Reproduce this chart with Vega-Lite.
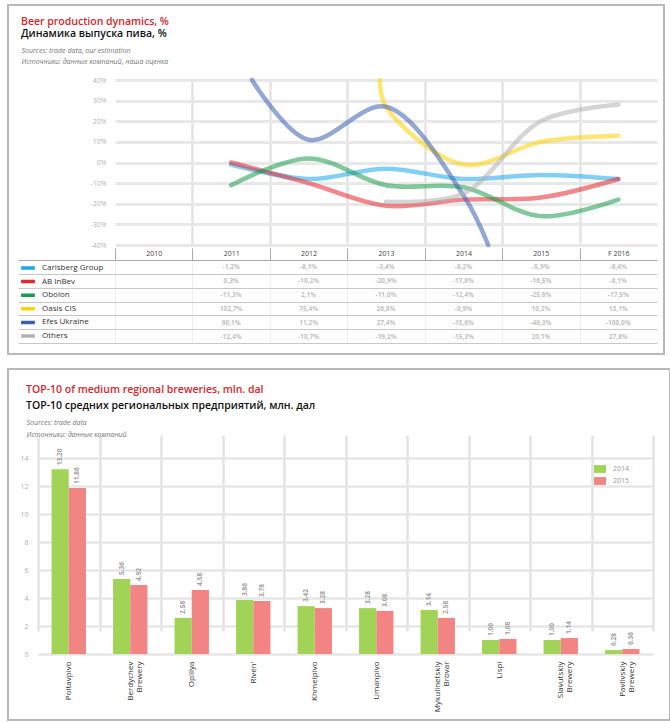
{
  "$schema": "https://vega.github.io/schema/vega-lite/v6.json",
  "padding": {"left": 3, "top": 4, "right": 0, "bottom": 0},
  "background": "white",
  "spacing": 13,
  "resolve": {"scale": {"color": "independent"}, "legend": {"color": "independent"}},
  "config": {
    "view": {"stroke": "#b9b9b9", "strokeWidth": 2},
    "font": "Open Sans",
    "axis": {"labelFont": "Open Sans", "titleFont": "Open Sans"},
    "legend": {"labelFont": "Open Sans"}
  },
  "vconcat": [
    {
      "width": 656,
      "height": 349,
      "title": {
        "text": "Beer production dynamics, %",
        "subtitle": "Динамика выпуска пива, %",
        "anchor": "start", "frame": "group", "offset": -34.7, "dx": 13,
        "font": "Open Sans", "fontSize": 10.5, "fontWeight": 600, "color": "#d8262e",
        "subtitleFont": "Open Sans", "subtitleFontSize": 10.5, "subtitleFontWeight": 600, "subtitleColor": "#111111",
        "subtitlePadding": 2
      },
      "layer": [
        {
          "data": {"values": [
            {"c": "Carlsberg Group", "t": 2011, "v": -1},
            {"c": "Carlsberg Group", "t": 2012, "v": -8},
            {"c": "Carlsberg Group", "t": 2013, "v": -3},
            {"c": "Carlsberg Group", "t": 2014, "v": -8},
            {"c": "Carlsberg Group", "t": 2015, "v": -6},
            {"c": "Carlsberg Group", "t": 2016, "v": -8},
            {"c": "AB InBev", "t": 2011, "v": 0},
            {"c": "AB InBev", "t": 2012, "v": -10},
            {"c": "AB InBev", "t": 2013, "v": -21},
            {"c": "AB InBev", "t": 2014, "v": -18},
            {"c": "AB InBev", "t": 2015, "v": -17},
            {"c": "AB InBev", "t": 2016, "v": -8},
            {"c": "Obolon", "t": 2011, "v": -11},
            {"c": "Obolon", "t": 2012, "v": 2},
            {"c": "Obolon", "t": 2013, "v": -11},
            {"c": "Obolon", "t": 2014, "v": -12},
            {"c": "Obolon", "t": 2015, "v": -26},
            {"c": "Obolon", "t": 2016, "v": -18},
            {"c": "Oasis CIS", "t": 2012.92, "v": 40},
            {"c": "Oasis CIS", "t": 2013, "v": 27},
            {"c": "Oasis CIS", "t": 2014, "v": -1},
            {"c": "Oasis CIS", "t": 2015, "v": 10},
            {"c": "Oasis CIS", "t": 2016, "v": 13},
            {"c": "Efes Ukraine", "t": 2011.27, "v": 40},
            {"c": "Efes Ukraine", "t": 2012, "v": 11},
            {"c": "Efes Ukraine", "t": 2013, "v": 27},
            {"c": "Efes Ukraine", "t": 2014, "v": -16},
            {"c": "Efes Ukraine", "t": 2014.32, "v": -40},
            {"c": "Others", "t": 2013, "v": -19},
            {"c": "Others", "t": 2014, "v": -15},
            {"c": "Others", "t": 2015, "v": 20},
            {"c": "Others", "t": 2016, "v": 28}
          ]},
          "mark": {"type": "line", "interpolate": "catmull-rom", "strokeWidth": 4.5, "opacity": 0.55, "strokeCap": "round"},
          "encoding": {
            "x": {
              "field": "t", "type": "quantitative",
              "scale": {"domain": [2009.5, 2016.5], "range": [107, 649], "nice": false, "zero": false},
              "axis": {
                "orient": "top", "values": [2010.5, 2011.5, 2012.5, 2013.5, 2014.5, 2015.5],
                "grid": true, "gridColor": "#e3e3e3", "gridWidth": 2.5,
                "labels": false, "ticks": false, "domain": false,
                "title": ["Sources: trade data, our estimation", "Источники: данные компаний, наша оценка"],
                "titleX": 13, "titleY": 47, "titleAlign": "left", "titleAnchor": "start", "titleBaseline": "alphabetic",
                "titleAngle": 0, "titleFontSize": 7, "titleFontStyle": "italic", "titleFontWeight": "normal",
                "titleColor": "#777777", "titleLineHeight": 11
              }
            },
            "y": {
              "field": "v", "type": "quantitative",
              "scale": {"domain": [-40, 40], "range": [240, 75], "nice": false, "zero": false},
              "axis": {
                "values": [-40, -30, -20, -10, 0, 10, 20, 30, 40],
                "grid": true, "gridColor": "#e8e8e8", "gridWidth": 3,
                "ticks": false, "domain": false, "labelExpr": "datum.value + '%'",
                "labelColor": "#b5b5b5", "labelFontSize": 7, "labelPadding": 2, "offset": -100, "title": null
              }
            },
            "color": {
              "field": "c", "type": "nominal",
              "scale": {
                "domain": ["Carlsberg Group", "AB InBev", "Obolon", "Oasis CIS", "Efes Ukraine", "Others"],
                "range": ["#1ca7ec", "#e8262e", "#1a9b4b", "#ffd200", "#3a5fb0", "#b3b3b3"]
              },
              "legend": {
                "orient": "none", "legendX": 12, "legendY": 257, "title": null,
                "symbolType": "M-1.15,0H1.15", "symbolSize": 144, "symbolStrokeWidth": 3.5, "symbolOpacity": 1,
                "clipHeight": 12,
                "labelFontSize": 8, "labelColor": "#333333", "labelOffset": 6, "rowPadding": 1.6, "padding": 0
              }
            }
          }
        },
        {
          "data": {"values": [
            {"c": "Carlsberg Group", "t": 2011, "s": "-1,2%"},
            {"c": "Carlsberg Group", "t": 2012, "s": "-8,1%"},
            {"c": "Carlsberg Group", "t": 2013, "s": "-3,4%"},
            {"c": "Carlsberg Group", "t": 2014, "s": "-8,2%"},
            {"c": "Carlsberg Group", "t": 2015, "s": "-5,9%"},
            {"c": "Carlsberg Group", "t": 2016, "s": "-8,4%"},
            {"c": "AB InBev", "t": 2011, "s": "0,3%"},
            {"c": "AB InBev", "t": 2012, "s": "-10,2%"},
            {"c": "AB InBev", "t": 2013, "s": "-20,9%"},
            {"c": "AB InBev", "t": 2014, "s": "-17,8%"},
            {"c": "AB InBev", "t": 2015, "s": "-16,5%"},
            {"c": "AB InBev", "t": 2016, "s": "-8,1%"},
            {"c": "Obolon", "t": 2011, "s": "-11,3%"},
            {"c": "Obolon", "t": 2012, "s": "2,1%"},
            {"c": "Obolon", "t": 2013, "s": "-11,0%"},
            {"c": "Obolon", "t": 2014, "s": "-12,4%"},
            {"c": "Obolon", "t": 2015, "s": "-25,6%"},
            {"c": "Obolon", "t": 2016, "s": "-17,5%"},
            {"c": "Oasis CIS", "t": 2011, "s": "102,7%"},
            {"c": "Oasis CIS", "t": 2012, "s": "75,4%"},
            {"c": "Oasis CIS", "t": 2013, "s": "26,8%"},
            {"c": "Oasis CIS", "t": 2014, "s": "-0,9%"},
            {"c": "Oasis CIS", "t": 2015, "s": "10,2%"},
            {"c": "Oasis CIS", "t": 2016, "s": "13,1%"},
            {"c": "Efes Ukraine", "t": 2011, "s": "60,1%"},
            {"c": "Efes Ukraine", "t": 2012, "s": "11,2%"},
            {"c": "Efes Ukraine", "t": 2013, "s": "27,4%"},
            {"c": "Efes Ukraine", "t": 2014, "s": "-15,6%"},
            {"c": "Efes Ukraine", "t": 2015, "s": "-48,3%"},
            {"c": "Efes Ukraine", "t": 2016, "s": "-100,0%"},
            {"c": "Others", "t": 2011, "s": "-12,4%"},
            {"c": "Others", "t": 2012, "s": "-10,7%"},
            {"c": "Others", "t": 2013, "s": "-19,2%"},
            {"c": "Others", "t": 2014, "s": "-15,3%"},
            {"c": "Others", "t": 2015, "s": "20,1%"},
            {"c": "Others", "t": 2016, "s": "27,8%"}
          ]},
          "mark": {"type": "text", "fontSize": 6.5, "color": "#c2c2c2", "fontWeight": "bold"},
          "encoding": {
            "x": {
              "field": "t", "type": "quantitative",
              "scale": {"domain": [2008.247, 2016.5], "range": [10, 649], "nice": false, "zero": false},
              "axis": {
                "orient": "top", "offset": -255,
                "values": [2009.5, 2010.5, 2011.5, 2012.5, 2013.5, 2014.5, 2015.5],
                "grid": true, "gridColor": "#eeeeee",
                "ticks": true, "tickSize": 12, "tickColor": "#aaaaaa",
                "domain": true, "domainColor": "#aaaaaa",
                "labelOffset": 38.7, "labelPadding": -8,
                "labelExpr": "datum.value > 2015 ? 'F 2016' : '' + (datum.value + 0.5)",
                "labelFontSize": 7, "labelColor": "#444444",
                "labelOverlap": false, "labelFlush": false, "labelBound": false, "title": null
              }
            },
            "y": {
              "field": "c", "type": "nominal",
              "sort": ["Carlsberg Group", "AB InBev", "Obolon", "Oasis CIS", "Efes Ukraine", "Others"],
              "scale": {"type": "band", "range": [255.5, 338.5], "paddingInner": 0, "paddingOuter": 0},
              "axis": {
                "orient": "left", "labels": false, "ticks": false, "domain": false,
                "grid": true, "bandPosition": 1, "gridColor": "#c8c8c8", "title": null
              }
            },
            "text": {"field": "s"}
          }
        }
      ],
      "resolve": {
        "scale": {"x": "independent", "y": "independent"},
        "axis": {"x": "independent", "y": "independent"}
      }
    },
    {
      "width": 662,
      "height": 351,
      "title": {
        "text": "TOP-10 of medium regional breweries, mln. dal",
        "subtitle": "ТОР-10 средних региональных предприятий, млн. дал",
        "anchor": "start", "frame": "group", "offset": -42.9, "dx": 18,
        "font": "Open Sans", "fontSize": 10.5, "fontWeight": 600, "color": "#d8262e",
        "subtitleFont": "Open Sans", "subtitleFontSize": 10.5, "subtitleFontWeight": 600, "subtitleColor": "#111111",
        "subtitlePadding": 6
      },
      "data": {"values": [
        {"b": "Poltavpivo", "s": "2014", "v": 13.2},
        {"b": "Poltavpivo", "s": "2015", "v": 11.86},
        {"b": "Berdychev Brewery", "s": "2014", "v": 5.36},
        {"b": "Berdychev Brewery", "s": "2015", "v": 4.92},
        {"b": "Opillya", "s": "2014", "v": 2.58},
        {"b": "Opillya", "s": "2015", "v": 4.58},
        {"b": "Riven'", "s": "2014", "v": 3.86},
        {"b": "Riven'", "s": "2015", "v": 3.78},
        {"b": "Khmelpivo", "s": "2014", "v": 3.42},
        {"b": "Khmelpivo", "s": "2015", "v": 3.28},
        {"b": "Umanpivo", "s": "2014", "v": 3.28},
        {"b": "Umanpivo", "s": "2015", "v": 3.08},
        {"b": "Mykulinetskiy Brovar", "s": "2014", "v": 3.14},
        {"b": "Mykulinetskiy Brovar", "s": "2015", "v": 2.58},
        {"b": "Lispi", "s": "2014", "v": 1.0},
        {"b": "Lispi", "s": "2015", "v": 1.08},
        {"b": "Slavutskiy Brewery", "s": "2014", "v": 1.0},
        {"b": "Slavutskiy Brewery", "s": "2015", "v": 1.14},
        {"b": "Pavlivskiy Brewery", "s": "2014", "v": 0.28},
        {"b": "Pavlivskiy Brewery", "s": "2015", "v": 0.36}
      ]},
      "encoding": {
        "x": {
          "field": "b", "type": "nominal", "sort": null,
          "scale": {"range": [30, 645], "paddingInner": 0, "paddingOuter": 0},
          "axis": {
            "orient": "bottom", "offset": -62, "labelAngle": 270, "labelAlign": "right", "labelBaseline": "middle",
            "labelExpr": "indexof(datum.label, ' ') > 0 ? split(datum.label, ' ') : datum.label",
            "labelFontSize": 8, "labelColor": "#333333", "labelPadding": 3, "labelLineHeight": 9,
            "ticks": false, "domain": false, "grid": true, "tickBand": "extent",
            "gridColor": "#e3e3e3", "gridWidth": 2.5, "title": null
          }
        },
        "xOffset": {"field": "s", "type": "nominal", "scale": {"paddingOuter": 0.79, "paddingInner": 0}},
        "y": {
          "field": "v", "type": "quantitative",
          "scale": {"domain": [0, 14], "range": [285, 89], "nice": false, "zero": true},
          "axis": {
            "values": [0, 2, 4, 6, 8, 10, 12, 14],
            "grid": true, "gridColor": "#e6e6e6", "gridWidth": 2.5,
            "ticks": false, "domain": false, "labelColor": "#b0b0b0", "labelFontSize": 7, "labelPadding": 2,
            "offset": -22,
            "title": ["Sources: trade data", "Источники: данные компаний"],
            "titleX": -4, "titleY": 55.5, "titleAlign": "left", "titleAnchor": "start", "titleBaseline": "alphabetic",
            "titleAngle": 0, "titleFontSize": 7, "titleFontStyle": "italic", "titleFontWeight": "normal",
            "titleColor": "#777777", "titleLineHeight": 12
          }
        }
      },
      "layer": [
        {
          "mark": {"type": "bar"},
          "encoding": {
            "color": {
              "field": "s", "type": "nominal",
              "scale": {"domain": ["2014", "2015"], "range": ["#a1d456", "#f38484"]},
              "legend": {
                "orient": "none", "legendX": 585, "legendY": 94, "title": null,
                "symbolType": "M-1,-0.65H1V0.65H-1Z", "symbolSize": 144, "symbolOpacity": 1,
                "clipHeight": 12,
                "labelFontSize": 7, "labelColor": "#999999", "labelOffset": 6, "rowPadding": 0, "padding": 0
              }
            }
          }
        },
        {
          "mark": {"type": "text", "angle": 270, "align": "left", "baseline": "middle", "dx": 4, "fontSize": 6.5, "color": "#a0a0a0", "fontWeight": "bold"},
          "encoding": {"text": {"field": "v", "type": "quantitative", "format": ".2f"}}
        }
      ]
    }
  ]
}
